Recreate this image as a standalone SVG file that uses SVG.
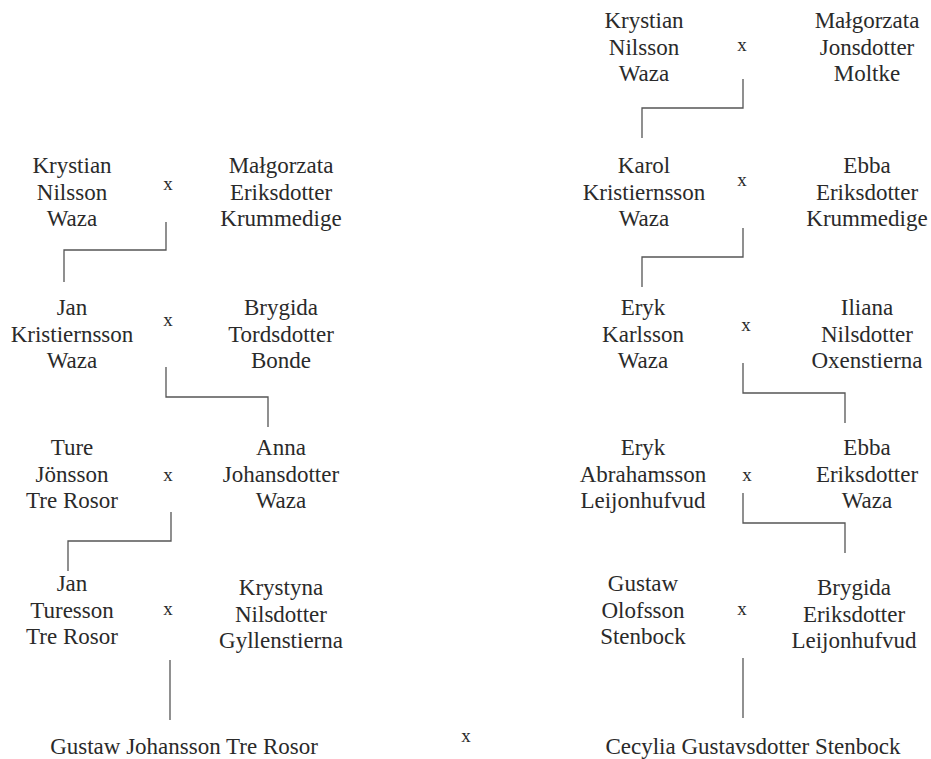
<svg xmlns="http://www.w3.org/2000/svg" width="931" height="759" viewBox="0 0 931 759">
<style>
.t text{font-size:23px;fill:#2a2a2a;text-anchor:middle}
.t .x{font-size:19px}
.c{fill:none;stroke:#555;stroke-width:1.3}
</style>
<rect width="931" height="759" fill="#fff"/>
<g id="connectors">
<path class="c" d="M166,222 V250 H64 V282"/>
<path class="c" d="M166,367 V397 H268 V427"/>
<path class="c" d="M171,512 V541 H68 V571"/>
<path class="c" d="M170,660 V720"/>
<path class="c" d="M743,79 V108 H642 V138"/>
<path class="c" d="M743,228 V257 H642 V287"/>
<path class="c" d="M743,363 V393 H845 V423"/>
<path class="c" d="M743,493 V523 H845 V553"/>
<path class="c" d="M743,658 V718"/>
</g>
<g class="t" font-family="Liberation Serif, DejaVu Serif, serif">
<g id="L1a"><text x="72" y="173">Krystian</text><text x="72" y="199.5">Nilsson</text><text x="72" y="226">Waza</text></g>
<g id="L1x"><text class="x" x="168" y="190">x</text></g>
<g id="L1b"><text x="281" y="173">Małgorzata</text><text x="281" y="199.5">Eriksdotter</text><text x="281" y="226">Krummedige</text></g>
<g id="L2a"><text x="72" y="315">Jan</text><text x="72" y="341.5">Kristiernsson</text><text x="72" y="368">Waza</text></g>
<g id="L2x"><text class="x" x="168" y="326">x</text></g>
<g id="L2b"><text x="281" y="315">Brygida</text><text x="281" y="341.5">Tordsdotter</text><text x="281" y="368">Bonde</text></g>
<g id="L3a"><text x="72" y="455">Ture</text><text x="72" y="481.5">Jönsson</text><text x="72" y="508">Tre Rosor</text></g>
<g id="L3x"><text class="x" x="168" y="481">x</text></g>
<g id="L3b"><text x="281" y="455">Anna</text><text x="281" y="481.5">Johansdotter</text><text x="281" y="508">Waza</text></g>
<g id="L4a"><text x="72" y="591">Jan</text><text x="72" y="617.5">Turesson</text><text x="72" y="644">Tre Rosor</text></g>
<g id="L4x"><text class="x" x="168" y="615">x</text></g>
<g id="L4b"><text x="281" y="595">Krystyna</text><text x="281" y="621.5">Nilsdotter</text><text x="281" y="648">Gyllenstierna</text></g>
<g id="L5"><text x="184" y="754">Gustaw Johansson Tre Rosor</text></g>
<g id="mid-x"><text class="x" x="466" y="742">x</text></g>
<g id="R0a"><text x="644" y="28">Krystian</text><text x="644" y="54.5">Nilsson</text><text x="644" y="81">Waza</text></g>
<g id="R0x"><text class="x" x="742" y="51">x</text></g>
<g id="R0b"><text x="867" y="28">Małgorzata</text><text x="867" y="54.5">Jonsdotter</text><text x="867" y="81">Moltke</text></g>
<g id="R1a"><text x="644" y="173">Karol</text><text x="644" y="199.5">Kristiernsson</text><text x="644" y="226">Waza</text></g>
<g id="R1x"><text class="x" x="742" y="186">x</text></g>
<g id="R1b"><text x="867" y="173">Ebba</text><text x="867" y="199.5">Eriksdotter</text><text x="867" y="226">Krummedige</text></g>
<g id="R2a"><text x="643" y="315">Eryk</text><text x="643" y="341.5">Karlsson</text><text x="643" y="368">Waza</text></g>
<g id="R2x"><text class="x" x="746" y="331">x</text></g>
<g id="R2b"><text x="867" y="315">Iliana</text><text x="867" y="341.5">Nilsdotter</text><text x="867" y="368">Oxenstierna</text></g>
<g id="R3a"><text x="643" y="455">Eryk</text><text x="643" y="481.5">Abrahamsson</text><text x="643" y="508">Leijonhufvud</text></g>
<g id="R3x"><text class="x" x="747" y="481">x</text></g>
<g id="R3b"><text x="867" y="455">Ebba</text><text x="867" y="481.5">Eriksdotter</text><text x="867" y="508">Waza</text></g>
<g id="R4a"><text x="643" y="591">Gustaw</text><text x="643" y="617.5">Olofsson</text><text x="643" y="644">Stenbock</text></g>
<g id="R4x"><text class="x" x="742" y="615">x</text></g>
<g id="R4b"><text x="854" y="595">Brygida</text><text x="854" y="621.5">Eriksdotter</text><text x="854" y="648">Leijonhufvud</text></g>
<g id="R5"><text x="753" y="754">Cecylia Gustavsdotter Stenbock</text></g>
</g>
</svg>
